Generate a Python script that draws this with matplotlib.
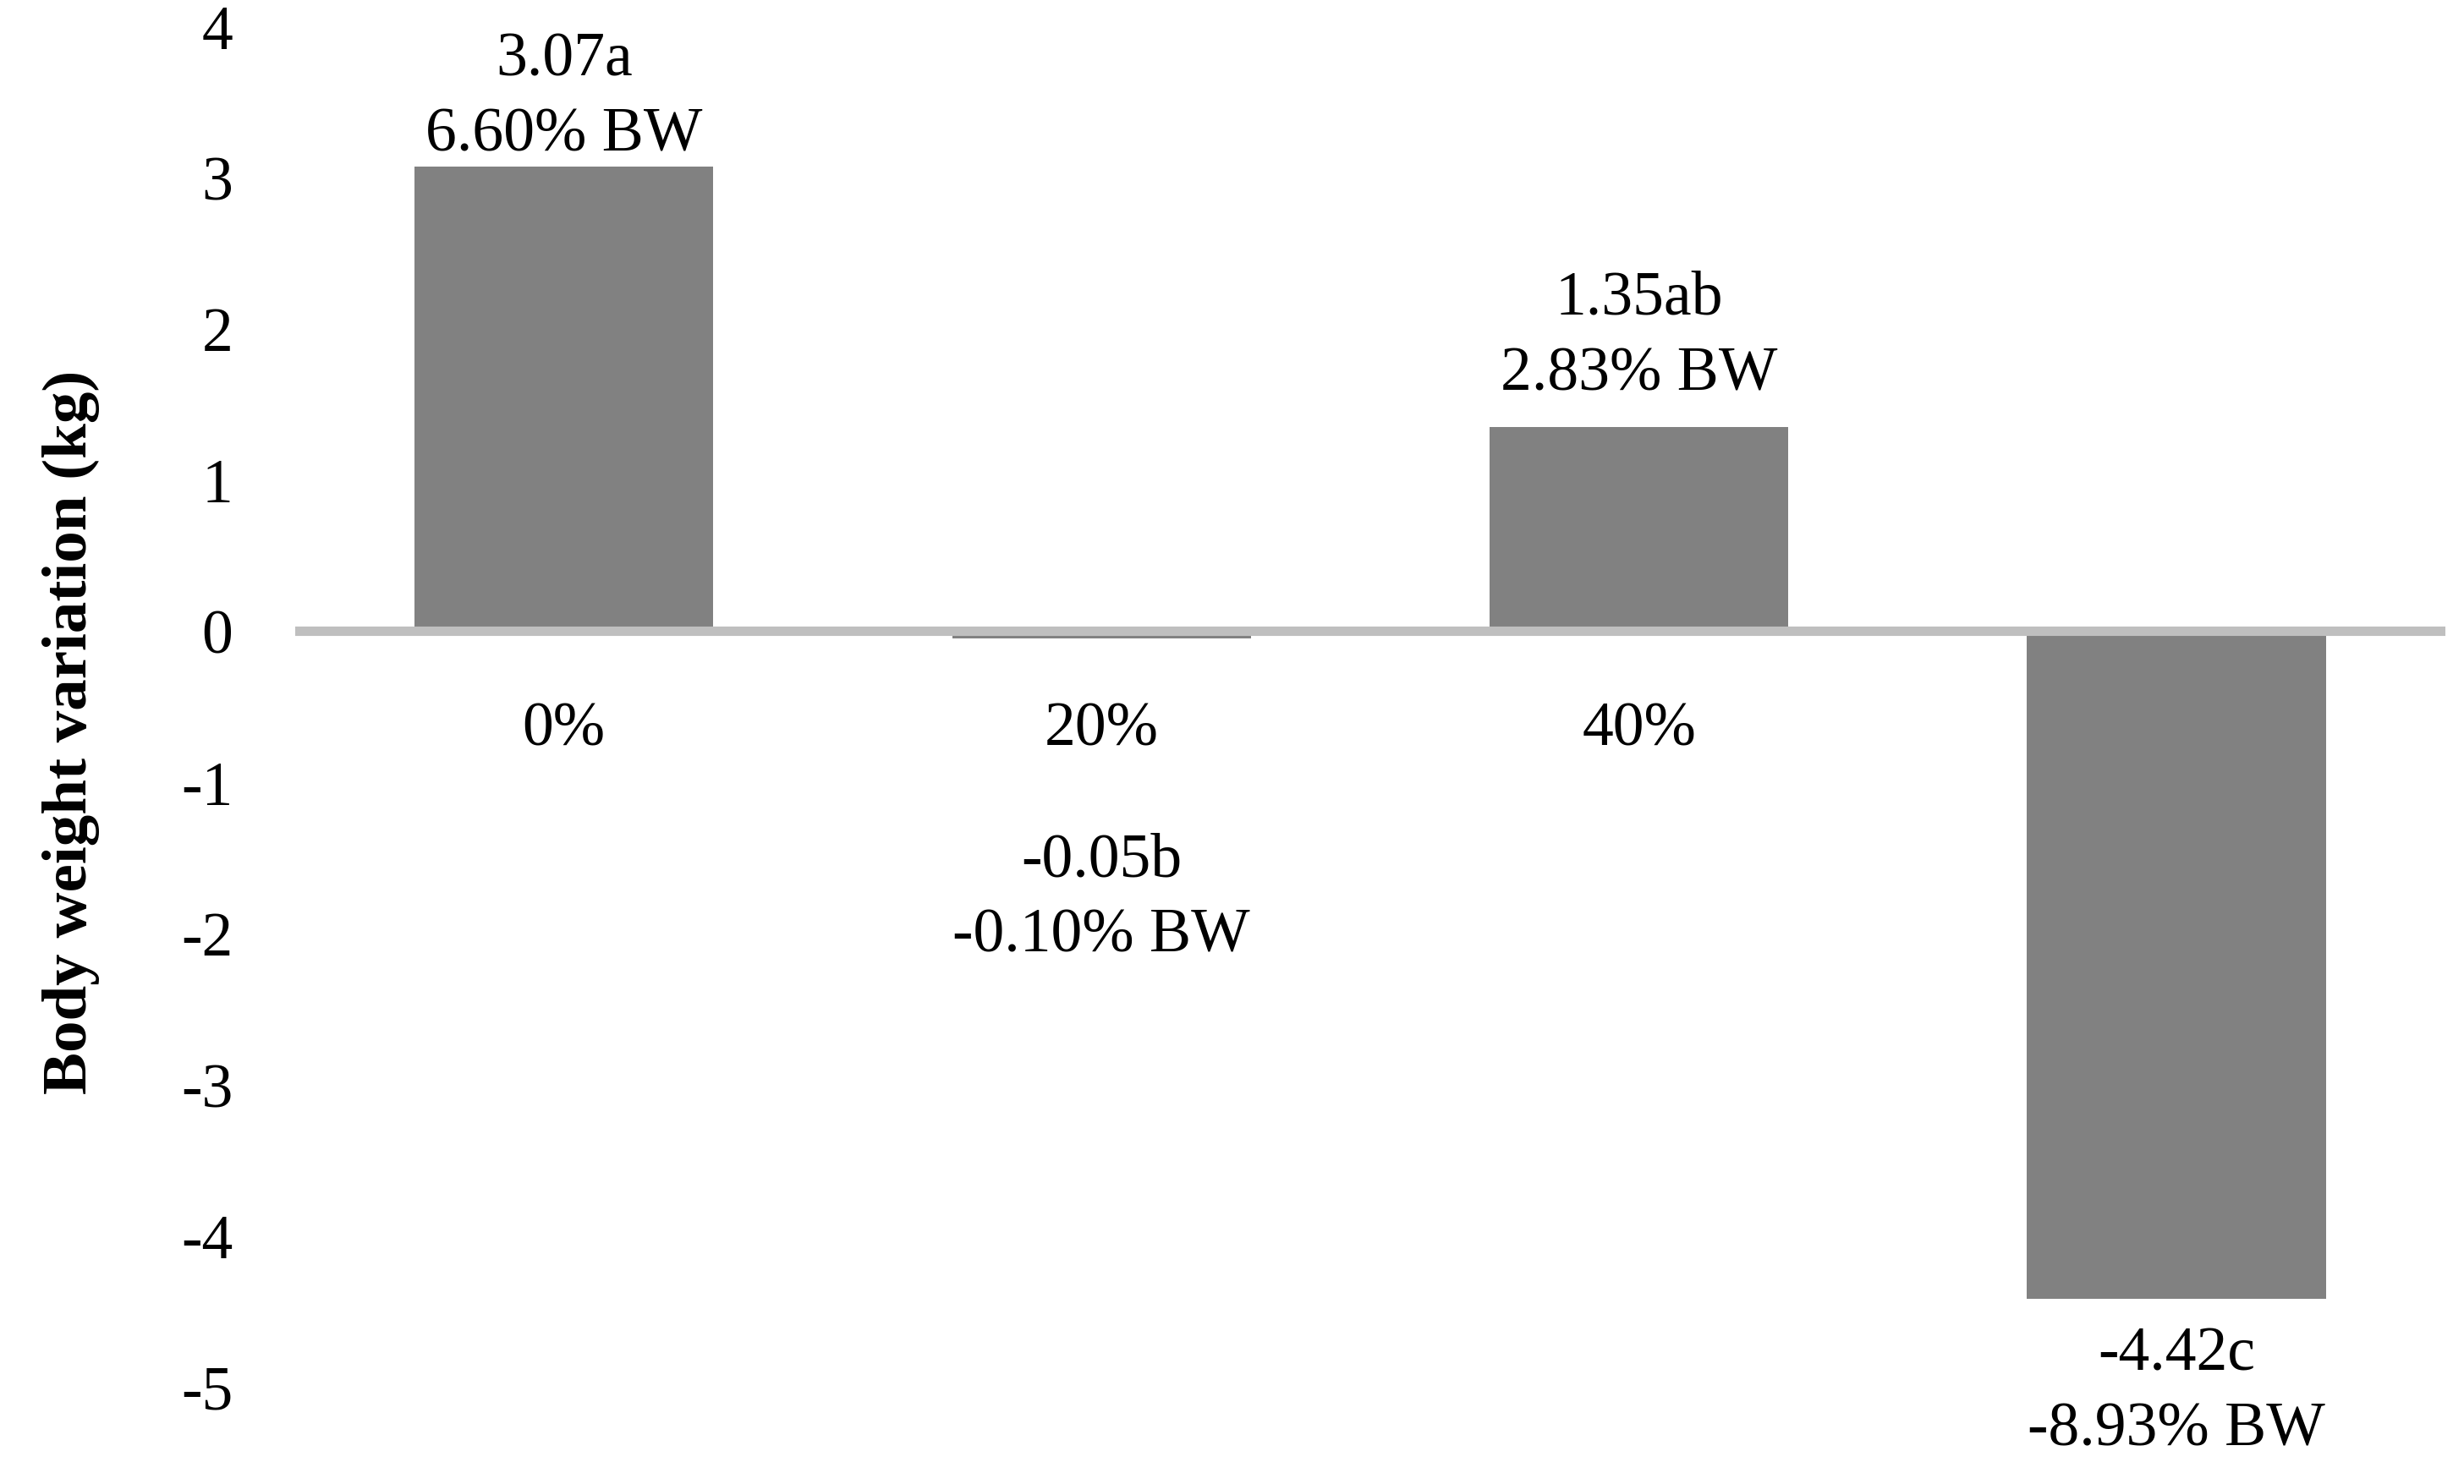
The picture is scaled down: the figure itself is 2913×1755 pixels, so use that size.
import numpy as np
import matplotlib
matplotlib.use("Agg")
import matplotlib.pyplot as plt

plt.rcParams['font.family'] = ['Liberation Serif', 'DejaVu Serif']

categories = ["0%", "20%", "40%", "60%"]
values = [3.07, -0.05, 1.35, -4.42]
letters = ["a", "b", "ab", "c"]
pct_bw = ["6.60%", "-0.10%", "2.83%", "-8.93%"]
yticks = [4, 3, 2, 1, 0, -1, -2, -3, -4, -5]

fs = 53

fig = plt.figure(figsize=(29.13, 17.56), dpi=100)
ax = fig.add_axes([0.1198, 0.0655, 0.8726, 0.9163])

x = np.arange(len(categories))
ax.bar(x, values, width=0.556, color='#818181', zorder=2)
ax.axhline(0, color='#bfbfbf', lw=8, zorder=3)

ax.set_xlim(-0.5, 3.5)
ax.set_ylim(-5, 4)
ax.set_yticks(yticks)
ax.set_yticklabels([str(t) for t in yticks])
ax.tick_params(axis='y', length=0, pad=53, labelsize=fs)

ax.spines['bottom'].set_position(('data', 0))
ax.set_xticks(x)
ax.set_xticklabels(categories)
ax.tick_params(axis='x', length=0, pad=60, labelsize=fs)
for s in ax.spines.values():
    s.set_visible(False)

# labels sit above/below the bars, kept inside the plot area like Excel does
for xi, v, let, p in zip(x, values, letters, pct_bw):
    label = f"{v:.2f}{let}\n{p} BW"
    if v >= 0:
        ax.text(xi, min(v + 0.16, 3.09), label, ha='center', va='bottom',
                fontsize=fs, linespacing=1.42)
    else:
        ax.annotate(label, (xi, min(v, -1.15)), xytext=(0, -23), textcoords='offset points',
                    ha='center', va='top', fontsize=fs, linespacing=1.42)

fig.text(0.0288, 0.507, "Body weight variation (kg)", rotation=90, ha='center', va='center',
         fontsize=54, fontweight='bold')

fig.savefig("out.png", dpi=100)
